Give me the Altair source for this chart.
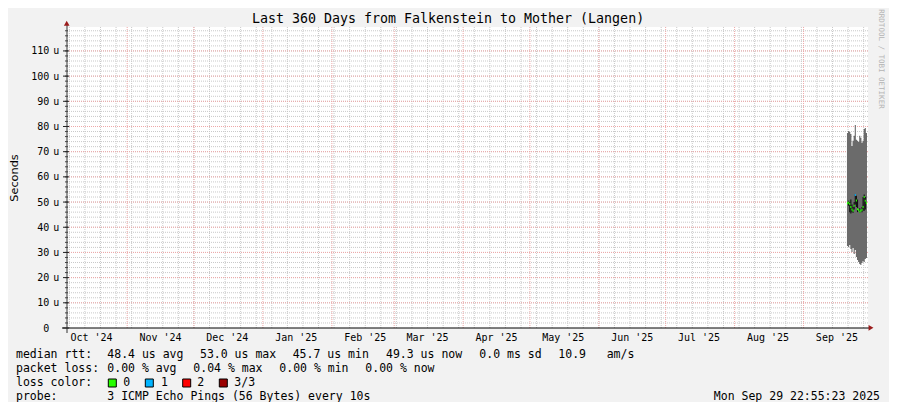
import altair as alt
import pandas as pd

# ---------------- data ----------------
col_times = [
    "2025-09-20T12:00:00Z", "2025-09-21T00:00:00Z", "2025-09-21T12:00:00Z",
    "2025-09-22T00:00:00Z", "2025-09-22T12:00:00Z", "2025-09-23T00:00:00Z",
    "2025-09-23T12:00:00Z", "2025-09-24T00:00:00Z", "2025-09-24T12:00:00Z",
    "2025-09-25T00:00:00Z", "2025-09-25T12:00:00Z", "2025-09-26T00:00:00Z",
    "2025-09-26T12:00:00Z", "2025-09-27T00:00:00Z", "2025-09-27T12:00:00Z",
    "2025-09-28T00:00:00Z", "2025-09-28T12:00:00Z", "2025-09-29T00:00:00Z",
]
last_end = "2025-09-29T12:00:00Z"
smoke_top = [77.4, 78.2, 77.8, 77.0, 72.3, 74.3, 76.3, 80.6, 74.7,
             74.3, 73.9, 76.3, 75.5, 73.5, 74.3, 79.0, 79.4, 77.4]
smoke_bottom = [32.6, 32.2, 33.0, 31.4, 30.2, 31.8, 29.4, 31.0, 28.2,
                27.0, 26.2, 25.4, 25.0, 25.8, 26.6, 26.2, 27.4, 27.8]
median_rtt = [49.5, 49.8, 49.2, 48.0, 47.0, 46.5, 48.5, 52.8, 50.6,
              47.2, 46.8, 46.2, 46.5, 46.9, 48.0, 52.0, 50.5, 49.6]
median_low = [49.5, 48.5, 46.0, 45.5, 46.0, 45.8, 47.0, 49.0, 48.0,
              46.0, 46.8, 45.8, 46.5, 46.0, 46.5, 46.5, 47.0, 49.6]
median_high = [49.5, 50.5, 50.0, 51.0, 49.0, 48.0, 50.0, 53.0, 52.5,
               51.0, 46.8, 47.5, 46.5, 48.0, 52.0, 53.0, 52.0, 49.6]
loss_class = ["0", "0", "0", "0", "0", "0", "0", "1", "0",
              "0", "0", "0", "0", "0", "0", "0", "0", "0"]

loss_names = ["0", "1", "2", "3/3"]
loss_colors = ["#26ff00", "#00b4ff", "#ff0000", "#9a0000"]

month_starts = ["2024-11-01", "2024-12-01", "2025-01-01", "2025-02-01",
                "2025-03-01", "2025-04-01", "2025-05-01", "2025-06-01",
                "2025-07-01", "2025-08-01", "2025-09-01"]
month_label_dates = ["2024-10-16", "2024-11-16", "2024-12-16", "2025-01-16",
                     "2025-02-16", "2025-03-16", "2025-04-16", "2025-05-16",
                     "2025-06-16", "2025-07-16", "2025-08-16", "2025-09-16"]
month_labels = ["Oct '24", "Nov '24", "Dec '24", "Jan '25", "Feb '25", "Mar '25",
                "Apr '25", "May '25", "Jun '25", "Jul '25", "Aug '25", "Sep '25"]
y_major = [10, 20, 30, 40, 50, 60, 70, 80, 90, 100, 110]
y_labels_num = ["0", "10", "20", "30", "40", "50", "60", "70", "80", "90", "100", "110"]
y_label_vals = [0, 10, 20, 30, 40, 50, 60, 70, 80, 90, 100, 110]

title_text = "Last 360 Days from Falkenstein to Mother (Langen)"
legend_rows = [
    [("median rtt:", 16), ("48.4 us avg", 107.3), ("53.0 us max", 200),
     ("45.7 us min", 292.7), ("49.3 us now", 386), ("0.0 ms sd", 479.3),
     ("10.9", 558.3), ("am/s", 606.7)],
    [("packet loss:", 16), ("0.00 % avg", 107.3), ("0.04 % max", 193.3),
     ("0.00 % min", 279.3), ("0.00 % now", 365.3)],
    [("loss color:", 16), ("0", 123.3), ("1", 161), ("2", 197.3), ("3/3", 234.3)],
    [("probe:", 16), ("3 ICMP Echo Pings (56 Bytes) every 10s", 107.3)],
]
legend_baselines = [358.3, 372.3, 386.0, 400.0]
swatch_x = [108.3, 145.3, 182.7, 219.3]
timestamp_text = "Mon Sep 29 22:55:23 2025"

# ---------------- layout ----------------
PL, PT = 67, 27          # plot origin in page coords
W, H = 801, 301
Y_MAX = 119.5
MONO = "DejaVu Sans Mono"
SVG_W, SVG_H = 881, 394

def px(x):
    return x - PL

def py(y):
    return y - PT

xs = alt.Scale(type="utc",
               domain=[alt.DateTime(year=2024, month=10, date=4, hours=22, minutes=55, utc=True),
                       alt.DateTime(year=2025, month=9, date=29, hours=22, minutes=55, utc=True)])
ys = alt.Scale(domain=[0, Y_MAX], nice=False, zero=True)

weeks = [d.strftime("%Y-%m-%dT00:00:00Z") for d in pd.date_range("2024-10-06", "2025-09-28", freq="7D")]
minor_vals = list(range(2, 120, 2))

df_minor = pd.DataFrame({"v": minor_vals})
df_major = pd.DataFrame({"v": y_major})
df_weeks = pd.DataFrame({"t": weeks})
df_months = pd.DataFrame({"t": [m + "T00:00:00Z" for m in month_starts]})

df_smoke = pd.DataFrame({
    "t": col_times + [last_end],
    "top": smoke_top + [smoke_top[-1]],
    "bottom": smoke_bottom + [smoke_bottom[-1]],
})
df_cols = pd.DataFrame({
    "t": col_times,
    "t2": col_times[1:] + [last_end],
    "med": median_rtt,
    "lo": median_low,
    "hi": median_high,
    "loss": loss_class,
})

layers = []
grid_gray = "#c9c9c9"
grid_red = "#eea7a7"

layers.append(alt.Chart(df_minor).mark_rule(color=grid_gray, strokeDash=[1, 1], strokeWidth=1)
              .encode(y=alt.Y("v:Q", scale=ys, axis=None)))
layers.append(alt.Chart(df_weeks).mark_rule(color=grid_gray, strokeDash=[1, 1], strokeWidth=1)
              .encode(x=alt.X("t:T", scale=xs, axis=None)))
layers.append(alt.Chart(df_major).mark_rule(color=grid_red, strokeDash=[1, 1], strokeWidth=1)
              .encode(y=alt.Y("v:Q", scale=ys, axis=None)))
layers.append(alt.Chart(df_months).mark_rule(color=grid_red, strokeDash=[1, 1], strokeWidth=1)
              .encode(x=alt.X("t:T", scale=xs, axis=None)))

# smoke
layers.append(alt.Chart(df_smoke).mark_area(interpolate="step-after", color="#6b6b6b", opacity=1)
              .encode(x=alt.X("t:T", scale=xs, axis=None),
                      y=alt.Y("top:Q", scale=ys, axis=None),
                      y2="bottom:Q"))
# median band
layers.append(alt.Chart(df_cols).mark_rect(color="#111111")
              .encode(x=alt.X("t:T", scale=xs, axis=None), x2="t2:T",
                      y=alt.Y("lo:Q", scale=ys, axis=None), y2="hi:Q"))
# median coloured by loss
layers.append(alt.Chart(df_cols).mark_rule(strokeWidth=2)
              .encode(x=alt.X("t:T", scale=xs, axis=None), x2="t2:T",
                      y=alt.Y("med:Q", scale=ys, axis=None),
                      color=alt.Color("loss:N", scale=alt.Scale(domain=loss_names, range=loss_colors),
                                      legend=None)))

one = pd.DataFrame({"a": [0]})

# axes lines
layers.append(alt.Chart(one).mark_rule(color="#000000", strokeWidth=1)
              .encode(x=alt.value(-5), x2=alt.value(W + 1), y=alt.value(H)))
layers.append(alt.Chart(one).mark_rule(color="#333333", strokeWidth=1)
              .encode(x=alt.value(0), y=alt.value(-4), y2=alt.value(H + 5)))
# y ticks
layers.append(alt.Chart(df_minor).mark_rule(color="#444444", strokeWidth=1)
              .encode(y=alt.Y("v:Q", scale=ys, axis=None), x=alt.value(-2), x2=alt.value(1)))
layers.append(alt.Chart(pd.DataFrame({"v": y_label_vals})).mark_rule(color="#222222", strokeWidth=1)
              .encode(y=alt.Y("v:Q", scale=ys, axis=None), x=alt.value(-4), x2=alt.value(2)))
# arrows
arrow_col = "#9b1c1c"
layers.append(alt.Chart(one).mark_point(shape="triangle-right", filled=True, color=arrow_col,
                                        size=32, opacity=1)
              .encode(x=alt.value(px(871)), y=alt.value(py(327.8))))
layers.append(alt.Chart(one).mark_point(shape="triangle-up", filled=True, color=arrow_col,
                                        size=32, opacity=1)
              .encode(x=alt.value(px(66.7)), y=alt.value(py(23.3))))

# y labels
df_ylab = pd.DataFrame({"v": y_label_vals, "lab": y_labels_num})
layers.append(alt.Chart(df_ylab).mark_text(font=MONO, fontSize=10, align="right", baseline="middle",
                                           color="#000000", dy=0.5)
              .encode(y=alt.Y("v:Q", scale=ys, axis=None), x=alt.value(px(49.3)), text="lab:N"))
layers.append(alt.Chart(pd.DataFrame({"v": y_major})).mark_text(font=MONO, fontSize=10, align="left",
                                                                baseline="middle", color="#000000",
                                                                dy=0.5, text="u")
              .encode(y=alt.Y("v:Q", scale=ys, axis=None), x=alt.value(px(53.2))))
# x labels
df_xlab = pd.DataFrame({"t": [d + "T00:00:00Z" for d in month_label_dates], "lab": month_labels})
layers.append(alt.Chart(df_xlab).mark_text(font=MONO, fontSize=10, align="center", baseline="middle",
                                           color="#000000")
              .encode(x=alt.X("t:T", scale=xs, axis=None), y=alt.value(py(337.5)), text="lab:N"))

def text_layer(s, x, y, align="left", size=11.5, font=MONO, color="#000000", angle=0, baseline="alphabetic"):
    return (alt.Chart(pd.DataFrame({"s": [s]}))
            .mark_text(font=font, fontSize=size, align=align, baseline=baseline, color=color, angle=angle)
            .encode(x=alt.value(px(x)), y=alt.value(py(y)), text="s:N"))

layers.append(text_layer(title_text, 448, 22.8, align="center", size=13.3))
layers.append(text_layer("Seconds", 15, 178, align="center", size=11.3, font="DejaVu Sans",
                         angle=270, baseline="middle"))
layers.append(text_layer("RRDTOOL / TOBI OETIKER", 880.5, 59, align="center", size=7.5, color="#b4b4b4",
                         angle=90, baseline="middle"))

for row, base in zip(legend_rows, legend_baselines):
    for s, x in row:
        layers.append(text_layer(s, x, base))
layers.append(text_layer(timestamp_text, 880, legend_baselines[3], align="right"))

for x, c in zip(swatch_x, loss_colors):
    layers.append(alt.Chart(one).mark_rect(color=c, stroke="#000000", strokeWidth=1)
                  .encode(x=alt.value(px(x)), x2=alt.value(px(x + 8)),
                          y=alt.value(py(379)), y2=alt.value(py(387))))

chart = (alt.layer(*layers)
         .properties(width=W, height=H,
                     autosize=alt.AutoSizeParams(type="none"),
                     padding={"left": PL - 8, "top": PT - 8, "right": SVG_W - (PL - 8) - W,
                              "bottom": SVG_H - (PT - 8) - H},
                     background="#f2f2f2")
         .configure_view(stroke=None, fill="#ffffff"))

chart.save("out.html", embed_options={"renderer": "svg", "actions": False})
